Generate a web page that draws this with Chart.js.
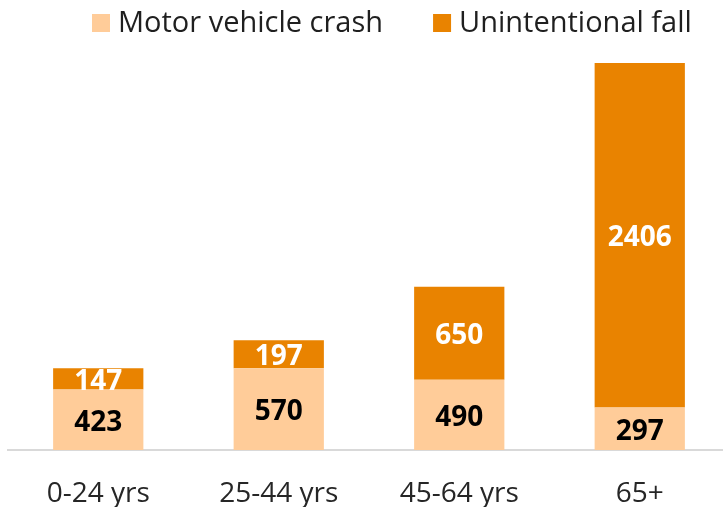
<!DOCTYPE html>
<html>
<head>
<meta charset="utf-8">
<script src="https://cdn.jsdelivr.net/npm/chart.js@4.4.1/dist/chart.umd.min.js"></script>
<style>
    html, body { margin: 0; padding: 0; background: #ffffff; }
    #wrap { width: 723px; height: 508px; overflow: hidden; position: relative; }
    #grafico { display: block; }
</style>
</head>
<body>
<div id="wrap">
    <canvas id="grafico" width="730" height="508" style="width:730px;height:508px"></canvas>
</div>
<script>
const faixas = ['0-24 yrs', '25-44 yrs', '45-64 yrs', '65+'];
const acidenteVeiculo = [423, 570, 490, 297];
const quedaAcidental = [147, 197, 650, 2406];
const nomesSeries = ['Motor vehicle crash', 'Unintentional fall'];
const coresSeries = ['#FFCC99', '#E98300'];
const coresRotulo = ['#000000', '#ffffff'];

const fonte = '"Open Sans", "Noto Sans", sans-serif';

// rótulos de valor no meio de cada segmento
const rotulosPlugin = {
    id: 'rotulos',
    afterDatasetsDraw(chart) {
        const ctx = chart.ctx;
        ctx.save();
        ctx.font = 'bold 28px ' + fonte;
        ctx.textAlign = 'center';
        ctx.textBaseline = 'middle';
        chart.data.datasets.forEach(function (ds, i) {
            const meta = chart.getDatasetMeta(i);
            ctx.fillStyle = coresRotulo[i];
            meta.data.forEach(function (bar, j) {
                const meio = (bar.y + bar.base) / 2;
                ctx.fillText(String(ds.data[j]), bar.x, meio + 3);
            });
        });
        ctx.restore();
    }
};

// legenda desenhada à mão para acertar posição
const legendaPlugin = {
    id: 'legendaManual',
    afterDraw(chart) {
        const ctx = chart.ctx;
        ctx.save();
        ctx.font = '29px ' + fonte;
        ctx.textBaseline = 'middle';
        ctx.textAlign = 'left';
        let x = 92;
        const y = 23;
        nomesSeries.forEach(function (nome, i) {
            ctx.fillStyle = coresSeries[i];
            ctx.fillRect(x, y - 9, 18, 18);
            ctx.fillStyle = '#1f1f1f';
            ctx.fillText(nome, x + 26, y + 1);
            x += 26 + ctx.measureText(nome).width + 50;
        });
        ctx.restore();
    }
};

const ctx = document.getElementById('grafico').getContext('2d');

const grafico = new Chart(ctx, {
    type: 'bar',
    data: {
        labels: faixas,
        datasets: [
            {
                label: nomesSeries[0],
                data: acidenteVeiculo,
                backgroundColor: coresSeries[0]
            },
            {
                label: nomesSeries[1],
                data: quedaAcidental,
                backgroundColor: coresSeries[1]
            }
        ]
    },
    options: {
        responsive: false,
        animation: false,
        events: [],
        datasets: {
            bar: {
                categoryPercentage: 1,
                barPercentage: 0.5,
                borderWidth: 0
            }
        },
        layout: {
            padding: { left: 8, right: 0, top: 49, bottom: 1 }
        },
        plugins: {
            legend: { display: false },
            tooltip: { enabled: false }
        },
        scales: {
            x: {
                stacked: true,
                grid: { display: false, drawTicks: false },
                border: { display: true, color: '#d9d9d9', width: 2 },
                ticks: {
                    color: '#262626',
                    padding: 27,
                    font: { family: fonte, size: 28, lineHeight: 1.2 }
                },
                afterFit: function (escala) {
                    escala.height = 57;
                }
            },
            y: {
                stacked: true,
                display: false,
                min: 0,
                max: 2800
            }
        }
    },
    plugins: [rotulosPlugin, legendaPlugin]
});
</script>
</body>
</html>
